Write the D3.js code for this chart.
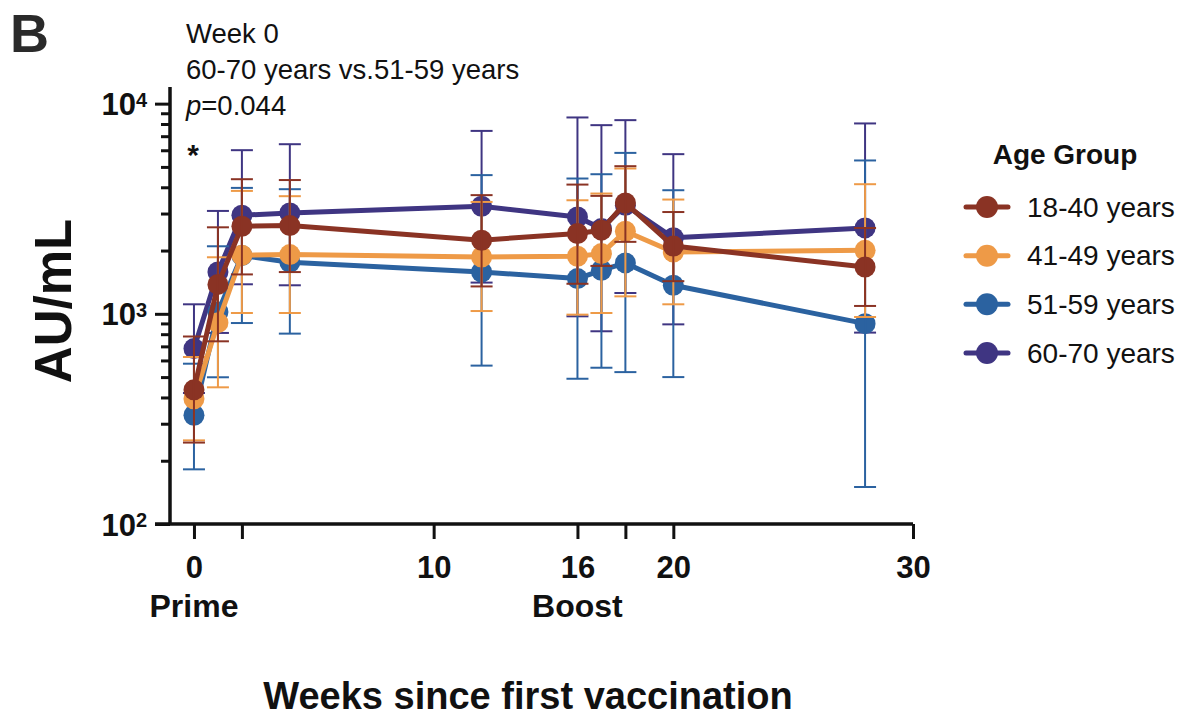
<!DOCTYPE html>
<html>
<head>
<meta charset="utf-8">
<script src="https://cdn.jsdelivr.net/npm/d3@7"></script>
<style>
  html, body { margin: 0; padding: 0; background: #fff; }
  svg { display: block; font-family: "Liberation Sans", Arial, Helvetica, sans-serif; }
</style>
</head>
<body>
<svg id="chart" width="1183" height="719"></svg>
<script>
// Weeks at which antibody titres were sampled
const weeks = [0, 1, 2, 4, 12, 16, 17, 18, 20, 28];

// Age groups (legend order) and their colours
const groups = ["18-40 years", "41-49 years", "51-59 years", "60-70 years"];
const colors = ["#8a3324", "#ee9a47", "#2b62a0", "#3f3582"];

// Geometric mean titres (AU/mL) with lower / upper error limits per group
const mean18to40 = [435, 1380, 2610, 2630, 2240, 2410, 2500, 3370, 2100, 1670];
const low18to40  = [244, 740, 1540, 1580, 1350, 1390, 1690, 2200, 1430, 1090];
const high18to40 = [780, 2580, 4370, 4330, 3670, 4120, 3640, 5040, 3050, 2560];

const mean41to49 = [394, 908, 1900, 1914, 1864, 1879, 1934, 2471, 1968, 2005];
const low41to49  = [250, 447, 1009, 1009, 1031, 991, 1009, 1211, 1110, 966];
const high41to49 = [623, 1858, 3844, 3628, 3407, 3470, 3735, 4914, 3497, 4137];

const mean51to59 = [329, 1020, 1895, 1760, 1581, 1471, 1611, 1746, 1367, 898];
const low51to59  = [182, 499, 904, 805, 567, 491, 554, 528, 500, 150];
const high51to59 = [579, 2096, 3973, 3917, 4570, 4403, 4615, 5830, 3873, 5366];

const mean60to70 = [683, 1581, 2944, 3020, 3250, 2890, 2545, 3286, 2300, 2562];
const low60to70  = [420, 811, 1382, 1367, 1408, 973, 826, 1256, 891, 814];
const high60to70 = [1110, 3087, 6006, 6412, 7418, 8595, 7900, 8346, 5750, 8050];

// Axis ticks
const xTicks = [0, 2, 10, 16, 18, 20, 30];
const xTickLabels = { 0: "0", 10: "10", 16: "16", 20: "20", 30: "30" };
const xPhaseLabels = [{ week: 0, text: "Prime" }, { week: 16, text: "Boost" }];
const yMajor = [100, 1000, 10000];
const yMinor = [200, 300, 400, 500, 600, 700, 800, 900,
                2000, 3000, 4000, 5000, 6000, 7000, 8000, 9000];

const series = [
  { name: groups[0], color: colors[0], mean: mean18to40, low: low18to40, high: high18to40 },
  { name: groups[1], color: colors[1], mean: mean41to49, low: low41to49, high: high41to49 },
  { name: groups[2], color: colors[2], mean: mean51to59, low: low51to59, high: high51to59 },
  { name: groups[3], color: colors[3], mean: mean60to70, low: low60to70, high: high60to70 }
];

const svg = d3.select("#chart");
const ink = "#111";

const x = d3.scaleLinear().domain([-1, 30]).range([170, 913]);
const y = d3.scaleLog().domain([100, 12000]).range([524, 87]);

// ---- Y axis: minor ticks, then major ticks with power-of-ten labels
const yMinorAxis = d3.axisLeft(y).tickValues(yMinor).tickSize(9).tickFormat("");
const gMinor = svg.append("g").attr("transform", `translate(${x.range()[0]},0)`).call(yMinorAxis);
gMinor.select(".domain").remove();
gMinor.selectAll(".tick line").attr("stroke", ink).attr("stroke-width", 3);

const yMajorAxis = d3.axisLeft(y).tickValues(yMajor).tickSize(15).tickPadding(9).tickFormat("");
const gMajor = svg.append("g").attr("transform", `translate(${x.range()[0]},0)`).call(yMajorAxis);
gMajor.select(".domain").attr("stroke", ink).attr("stroke-width", 3.5)
  .attr("d", `M0,${y.range()[1]}V${y.range()[0]}`);
gMajor.selectAll(".tick line").attr("stroke", ink).attr("stroke-width", 3);
gMajor.selectAll(".tick").each(function (d) {
  const t = d3.select(this).append("text")
    .attr("x", -23).attr("dy", "0.36em")
    .attr("text-anchor", "end")
    .attr("fill", ink)
    .attr("font-weight", "bold")
    .attr("font-size", 31);
  t.append("tspan").text("10");
  t.append("tspan").attr("dy", "-0.42em").attr("font-size", 20).text(Math.round(Math.log10(d)));
});

// ---- X axis
const xAxis = d3.axisBottom(x).tickValues(xTicks).tickSize(15).tickPadding(0)
  .tickFormat(d => "");
const gx = svg.append("g").attr("transform", `translate(0,${y.range()[0]})`).call(xAxis);
gx.select(".domain").attr("stroke", ink).attr("stroke-width", 3.5)
  .attr("d", `M${x.range()[0] - 15},0H${x.range()[1]}`);
gx.selectAll(".tick line").attr("stroke", ink).attr("stroke-width", 3);
gx.selectAll(".tick").filter(d => xTickLabels[d] !== undefined)
  .append("text")
  .attr("y", 54).attr("text-anchor", "middle")
  .attr("fill", ink).attr("font-weight", "bold").attr("font-size", 31)
  .text(d => xTickLabels[d]);
gx.selectAll(".phase").data(xPhaseLabels).enter().append("text")
  .attr("class", "phase")
  .attr("x", d => x(d.week)).attr("y", 93)
  .attr("text-anchor", "middle")
  .attr("fill", ink).attr("font-weight", "bold").attr("font-size", 32)
  .text(d => d.text);

// ---- Axis titles
svg.append("text")
  .attr("transform", "translate(71,301) rotate(-90)")
  .attr("text-anchor", "middle")
  .attr("fill", ink).attr("font-weight", "bold").attr("font-size", 51)
  .text("AU/mL");
svg.append("text")
  .attr("x", 528).attr("y", 709)
  .attr("text-anchor", "middle")
  .attr("fill", ink).attr("font-weight", "bold").attr("font-size", 38)
  .text("Weeks since first vaccination");

// ---- Panel letter and statistics note
svg.append("text").attr("x", 10).attr("y", 52)
  .attr("fill", "#2a2a2a").attr("font-weight", "bold").attr("font-size", 54).text("B");
const note = svg.append("g").attr("fill", ink).attr("font-size", 27.5);
note.append("text").attr("x", 186).attr("y", 43).text("Week 0");
note.append("text").attr("x", 186).attr("y", 79).text("60-70 years vs.51-59 years");
const pText = note.append("text").attr("x", 186).attr("y", 115);
pText.append("tspan").attr("font-style", "italic").text("p");
pText.append("tspan").text("=0.044");
svg.append("text").attr("x", 193).attr("y", 165).attr("text-anchor", "middle")
  .attr("fill", ink).attr("font-weight", "bold").attr("font-size", 30).text("*");

// ---- Data: drawn from the oldest group up so the youngest sits on top
const line = d3.line().x(d => x(d.week)).y(d => y(d.mean));
const capHalf = 11;
const plot = svg.append("g");
series.slice().reverse().forEach(s => {
  const pts = weeks.map((w, i) => ({ week: w, mean: s.mean[i], low: s.low[i], high: s.high[i] }));
  const g = plot.append("g");
  g.append("path").datum(pts)
    .attr("fill", "none").attr("stroke", s.color).attr("stroke-width", 5)
    .attr("stroke-linejoin", "round")
    .attr("d", line);
  g.selectAll("circle").data(pts).enter().append("circle")
    .attr("cx", d => x(d.week)).attr("cy", d => y(d.mean)).attr("r", 10.5)
    .attr("fill", s.color);
  const eb = g.selectAll(".err").data(pts).enter().append("g")
    .attr("stroke", s.color).attr("stroke-width", 2);
  eb.append("line")
    .attr("x1", d => x(d.week)).attr("x2", d => x(d.week))
    .attr("y1", d => y(d.low)).attr("y2", d => y(d.high));
  eb.append("line")
    .attr("x1", d => x(d.week) - capHalf).attr("x2", d => x(d.week) + capHalf)
    .attr("y1", d => y(d.high)).attr("y2", d => y(d.high));
  eb.append("line")
    .attr("x1", d => x(d.week) - capHalf).attr("x2", d => x(d.week) + capHalf)
    .attr("y1", d => y(d.low)).attr("y2", d => y(d.low));
});

// ---- Legend
const legend = svg.append("g").attr("transform", "translate(966,0)");
legend.append("text").attr("x", 99).attr("y", 164).attr("text-anchor", "middle")
  .attr("fill", ink).attr("font-weight", "bold").attr("font-size", 28).text("Age Group");
const rowY = d3.scalePoint().domain(groups).range([207, 353]);
const rows = legend.selectAll(".row").data(series).enter().append("g")
  .attr("transform", d => `translate(0,${rowY(d.name)})`);
rows.append("line").attr("x1", 0).attr("x2", 42)
  .attr("stroke", d => d.color).attr("stroke-width", 5).attr("stroke-linecap", "round");
rows.append("circle").attr("cx", 21).attr("r", 11).attr("fill", d => d.color);
rows.append("text").attr("x", 61).attr("dy", "0.35em")
  .attr("fill", ink).attr("font-size", 28).text(d => d.name);
</script>
</body>
</html>
